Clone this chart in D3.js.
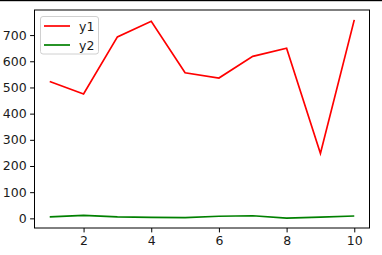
<!DOCTYPE html>
<html><head><meta charset="utf-8">
<script src="https://cdn.jsdelivr.net/npm/d3@7"></script>
<style>html,body{margin:0;padding:0;background:#fff;}svg{display:block;}</style>
</head><body>
<svg id="c" width="382" height="255"></svg>
<script>
const xs = [1,2,3,4,5,6,7,8,9,10];
const y1 = [523,475,693,753,556,536,619,650,248,758];
const y2 = [6,11,6,4,3,8,10,1,5,9];
const xTicks = [2,4,6,8,10];
const yTicks = [0,100,200,300,400,500,600,700];
const seriesNames = ["y1","y2"];
const seriesColors = ["#ff0000","#008000"];

const W=382,H=255;
const m={left:34.5,right:369.5,top:10,bottom:228};
const svg=d3.select("#c");
svg.append("rect").attr("x",0).attr("y",0).attr("width",W).attr("height",1.2).attr("fill","#000");

const allY=y1.concat(y2);
const ymin=d3.min(allY),ymax=d3.max(allY),ypad=(ymax-ymin)*0.05;
const xmin=d3.min(xs),xmax=d3.max(xs),xpad=(xmax-xmin)*0.05;
const x=d3.scaleLinear().domain([xmin-xpad,xmax+xpad]).range([m.left,m.right]);
const y=d3.scaleLinear().domain([ymin-ypad,ymax+ypad]).range([m.bottom,m.top]);

const font="DejaVu Sans";
const xa=svg.append("g").attr("transform",`translate(0,${m.bottom})`)
  .call(d3.axisBottom(x).tickValues(xTicks).tickSize(4.4).tickPadding(3.5).tickFormat(d3.format("d")));
const ya=svg.append("g").attr("transform",`translate(${m.left},0)`)
  .call(d3.axisLeft(y).tickValues(yTicks).tickSize(4.4).tickPadding(3.5).tickFormat(d3.format("d")));
[xa,ya].forEach(a=>{a.select(".domain").remove();a.selectAll("line").attr("stroke","#000").attr("stroke-width",1);
  a.selectAll("text").attr("font-family",font).attr("font-size","12.5px").attr("fill","#1a1a1a");});

svg.append("rect").attr("x",m.left).attr("y",m.top).attr("width",m.right-m.left).attr("height",m.bottom-m.top)
  .attr("fill","none").attr("stroke","#000").attr("stroke-width",1);

const line=d3.line().x((d,i)=>x(xs[i])).y(d=>y(d));
[y1,y2].forEach((s,k)=>{
  svg.append("path").datum(s).attr("d",line).attr("fill","none").attr("stroke",seriesColors[k])
    .attr("stroke-width",1.7).attr("stroke-linejoin","miter");
});

// legend
const lg=svg.append("g");
lg.append("rect").attr("x",40.5).attr("y",16.5).attr("width",58).attr("height",37.5).attr("rx",2.5)
  .attr("fill","#fff").attr("fill-opacity",0.8).attr("stroke","#d0d0d0").attr("stroke-width",1);
seriesNames.forEach((n,k)=>{
  const yy=26+k*19;
  lg.append("line").attr("x1",44).attr("x2",70).attr("y1",yy).attr("y2",yy).attr("stroke",seriesColors[k]).attr("stroke-width",1.7);
  lg.append("text").attr("x",79).attr("y",yy).attr("dy","0.36em").attr("font-family",font).attr("font-size","12.5px").attr("fill","#1a1a1a").text(n);
});
</script>
</body></html>
